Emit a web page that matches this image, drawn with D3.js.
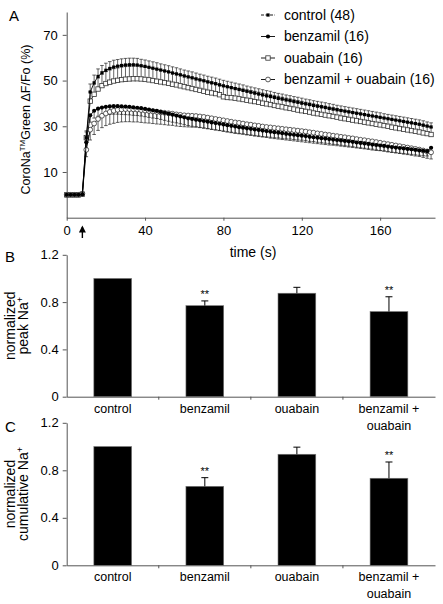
<!DOCTYPE html>
<html><head><meta charset="utf-8">
<script src="https://cdn.jsdelivr.net/npm/d3@7"></script>
<style>
body{margin:0;background:#fff}
svg{display:block}
text{font-family:"Liberation Sans",Arial,sans-serif;fill:#000}
</style>
</head><body>
<svg id="c" width="443" height="604"></svg>
<script>
// ---------------- DATA ----------------
const times = [0,2,4,6,8,10,12,14,16,18,20,22,24,26,28,30,32,34,36,38,40,42,44,46,48,50,52,54,56,58,60,62,64,66,68,70,72,74,76,78,80,82,84,86,88,90,92,94,96,98,100,102,104,106,108,110,112,114,116,118,120,122,124,126,128,130,132,134,136,138,140,142,144,146,148,150,152,154,156,158,160,162,164,166,168,170,172,174,176,178,180,182,184,186];

const control = [0,0,0,0,0.3,
 25,45,49,51.8,53.4,54.5,55.3,55.9,56.3,56.6,56.8,56.9,56.9,56.8,56.5,
 56.2,55.8,55.4,55.0,54.6,54.2,53.8,53.3,52.9,52.5,
 52.0,51.6,51.2,50.7,50.3,49.9,49.4,49.0,48.6,48.1,
 47.7,47.3,46.9,46.5,46.1,45.7,45.3,44.9,44.5,44.1,
 43.7,43.3,43.0,42.6,42.2,41.9,41.5,41.2,40.8,40.5,
 40.1,39.8,39.5,39.1,38.8,38.5,38.2,37.8,37.5,37.2,
 36.9,36.6,36.3,36.0,35.7,35.4,35.1,34.8,34.5,34.2,
 33.9,33.6,33.3,33.0,32.7,32.4,32.1,31.8,31.5,31.2,
 30.9,30.5,30.1,29.7];
const controlErr = [0,0,0,0,0,
 3.0,3.5,3.4,3.3,3.2,3.1,3.0,3.0,2.9,2.9,2.9,2.9,2.9,2.9,2.8,
 2.8,2.8,2.8,2.8,2.7,2.7,2.7,2.7,2.7,2.6,
 2.6,2.6,2.6,2.6,2.5,2.5,2.5,2.5,2.5,2.5,
 2.4,2.4,2.4,2.4,2.4,2.4,2.3,2.3,2.3,2.3,
 2.3,2.3,2.3,2.2,2.2,2.2,2.2,2.2,2.2,2.2,
 2.2,2.1,2.1,2.1,2.1,2.1,2.1,2.1,2.1,2.0,
 2.0,2.0,2.0,2.0,2.0,2.0,2.0,2.0,2.0,2.0,
 2.0,1.9,1.9,1.9,1.9,1.9,1.9,1.9,1.9,1.9,
 1.9,1.9,1.8,1.8];

const benzamil = [0,0,0,0,0.3,
 23,34.8,36.8,37.7,38.2,38.5,38.7,38.8,38.8,38.7,38.6,38.5,38.3,38.1,37.9,
 37.6,37.3,37.0,36.7,36.3,35.9,35.5,35.1,34.7,34.3,
 33.9,33.5,33.2,32.9,32.6,32.3,32.0,31.7,31.4,31.1,
 30.8,30.5,30.2,29.9,29.6,29.4,29.1,28.9,28.6,28.4,
 28.1,27.9,27.6,27.4,27.2,27.0,26.7,26.5,26.3,26.1,
 25.9,25.7,25.4,25.2,25.0,24.8,24.6,24.4,24.2,24.0,
 23.8,23.6,23.4,23.2,22.9,22.7,22.5,22.3,22.0,21.8,
 21.6,21.4,21.1,20.9,20.7,20.5,20.3,20.1,19.9,19.7,
 19.5,19.3,19.1,20.6];
const benzamilErr = [0,0,0,0,0,
 2.5,3.0,3.2,3.3,3.4,3.4,3.5,3.5,3.5,3.5,3.5,3.5,3.5,3.4,3.4,
 3.4,3.4,3.4,3.3,3.3,3.3,3.3,3.3,3.2,3.2,
 3.2,3.2,3.2,3.1,3.1,3.1,3.1,3.1,3.0,3.0,
 3.0,3.0,3.0,3.0,2.9,2.9,2.9,2.9,2.9,2.9,
 2.8,2.8,2.8,2.8,2.8,2.8,2.7,2.7,2.7,2.7,
 2.7,2.7,2.6,2.6,2.6,2.6,2.6,2.6,2.5,2.5,
 2.5,2.5,2.5,2.5,2.4,2.4,2.4,2.4,2.4,2.4,
 2.3,2.3,2.3,2.3,2.3,2.3,2.2,2.2,2.2,2.2,
 2.2,2.2,2.1,2.1];

const ouabain = [0,0,0,0,0.3,
 25,41,44,46.3,47.8,48.7,49.3,49.8,50.1,50.4,50.6,50.7,50.8,50.8,50.7,
 50.5,50.3,50.0,49.7,49.4,49.1,48.8,48.4,48.1,47.7,
 47.3,46.9,46.5,46.1,45.7,45.3,44.9,44.6,44.3,43.8,
 42.9,42.6,42.5,42.3,42.0,41.7,41.4,41.1,40.8,40.5,
 40.1,39.8,39.5,39.1,38.8,38.5,38.1,37.8,37.5,37.1,
 36.8,36.5,36.2,35.8,35.5,35.2,34.9,34.6,34.3,34.0,
 33.6,33.3,33.0,32.7,32.4,32.1,31.8,31.5,31.2,30.9,
 30.6,30.3,30.0,29.6,29.3,29.0,28.7,28.4,28.1,27.8,
 27.5,27.1,26.8,26.4];
const ouabainErr = [0,0,0,0,0,
 2.5,4.0,4.5,4.8,5.0,5.2,5.3,5.4,5.4,5.5,5.5,5.5,5.5,5.5,5.4,
 5.4,5.4,5.3,5.3,5.3,5.2,5.2,5.2,5.1,5.1,
 5.1,5.0,5.0,5.0,4.9,4.9,4.9,4.8,4.8,4.8,
 4.7,4.7,4.7,4.6,4.6,4.6,4.5,4.5,4.5,4.4,
 4.4,4.4,4.3,4.3,4.3,4.2,4.2,4.2,4.1,4.1,
 4.1,4.0,4.0,4.0,3.9,3.9,3.9,3.8,3.8,3.8,
 3.7,3.7,3.7,3.6,3.6,3.6,3.5,3.5,3.5,3.4,
 3.4,3.4,3.3,3.3,3.3,3.2,3.2,3.2,3.1,3.1,
 3.1,3.0,3.0,3.0];

const benzOuab = [0,0,0,0,0.5,
 19.7,28.5,31.2,33.2,34.6,35.6,36.3,36.8,37.2,37.4,37.5,37.5,37.4,37.3,37.1,
 36.9,36.7,36.5,36.3,36.1,35.9,35.7,35.5,35.2,35.0,
 34.8,34.7,34.6,34.5,34.3,34.1,33.8,33.5,33.2,32.9,
 32.6,32.3,32.0,31.7,31.5,31.2,30.9,30.7,30.4,30.2,
 29.9,29.7,29.5,29.3,29.1,28.9,28.7,28.5,28.3,28.1,
 27.9,27.7,27.4,27.2,26.9,26.7,26.4,26.2,25.9,25.7,
 25.4,25.2,24.9,24.7,24.4,24.1,23.9,23.6,23.4,23.1,
 22.8,22.5,22.2,21.9,21.6,21.3,21.0,20.7,20.4,20.1,
 19.8,19.4,19.0,18.6];
const benzOuabErr = [0,0,0,0,0,
 3.0,4.5,4.8,5.0,5.2,5.3,5.4,5.5,5.5,5.5,5.5,5.5,5.5,5.4,5.4,
 5.4,5.3,5.3,5.3,5.2,5.2,5.2,5.1,5.1,5.1,
 5.0,5.0,5.0,4.9,4.9,4.9,4.8,4.8,4.8,4.7,
 4.7,4.7,4.6,4.6,4.6,4.5,4.5,4.5,4.4,4.4,
 4.4,4.3,4.3,4.3,4.2,4.2,4.2,4.1,4.1,4.1,
 4.0,4.0,4.0,3.9,3.9,3.9,3.8,3.8,3.8,3.7,
 3.7,3.7,3.6,3.6,3.6,3.5,3.5,3.5,3.4,3.4,
 3.4,3.3,3.3,3.3,3.2,3.2,3.2,3.1,3.1,3.1,
 3.0,3.0,3.0,2.9];

const legendLabels = ["control (48)", "benzamil (16)", "ouabain (16)", "benzamil + ouabain (16)"];
const timeTicks = [0, 40, 80, 120, 160];
const traceTicks = [10, 30, 50, 70];
const stimulusTime = 8;

const groups = ["control", "benzamil", "ouabain", "benzamil + ouabain"];
const groupLabelLines = [["control"], ["benzamil"], ["ouabain"], ["benzamil +", "ouabain"]];
const peakNa = [1.0, 0.77, 0.875, 0.72];
const peakNaErr = [0, 0.04, 0.05, 0.125];
const cumulativeNa = [1.0, 0.665, 0.935, 0.733];
const cumulativeNaErr = [0, 0.073, 0.06, 0.137];
const significance = ["", "**", "", "**"];
const barTicks = [0, 0.4, 0.8, 1.2];

// ---------------- DRAW ----------------
const svg = d3.select("#c");
const AX = "#555";
const L = 66.7, R = 435;

function styleAxis(g, fs) {
  g.select(".domain").attr("stroke", AX).attr("stroke-width", 1);
  g.selectAll(".tick line").attr("stroke", AX);
  g.selectAll(".tick text").attr("font-size", fs).attr("fill", "#000")
   .attr("font-family", '"Liberation Sans",Arial,sans-serif');
}

// ----- Panel A -----
const xA = d3.scaleLinear().domain([0, 188]).range([L, R]);
const yA = d3.scaleLinear().domain([-10, 80]).range([217.7, 12]);

svg.append("g").attr("transform", `translate(0,${yA(-10)})`)
  .call(d3.axisBottom(xA).tickValues(timeTicks).tickSize(3).tickSizeOuter(0).tickPadding(5))
  .call(g => styleAxis(g, 13));
svg.append("g").attr("transform", `translate(${L},0)`)
  .call(d3.axisLeft(yA).tickValues(traceTicks).tickSize(4).tickSizeOuter(0).tickPadding(5))
  .call(g => styleAxis(g, 13));

const series = [
  {key: "control", v: control, e: controlErr, dir: 1, shape: "square", fill: "#000", stroke: "#000", size: 3.2},
  {key: "benzamil", v: benzamil, e: benzamilErr, dir: -1, shape: "circle", fill: "#000", stroke: "#000", size: 2.1},
  {key: "ouabain", v: ouabain, e: ouabainErr, dir: 1, shape: "square", fill: "#fff", stroke: "#333", size: 4.4},
  {key: "benzOuab", v: benzOuab, e: benzOuabErr, dir: -1, shape: "circle", fill: "#fff", stroke: "#333", size: 2.4}
];

// error bars
series.forEach(s => {
  const g = svg.append("g").attr("stroke", "#222").attr("stroke-width", 0.7);
  times.forEach((t, i) => {
    if (!s.e[i]) return;
    const x = xA(t), y0 = yA(s.v[i]), y1 = yA(s.v[i] + s.dir * s.e[i]);
    g.append("line").attr("x1", x).attr("x2", x).attr("y1", y0).attr("y2", y1);
    g.append("line").attr("x1", x - 1.8).attr("x2", x + 1.8).attr("y1", y1).attr("y2", y1);
  });
});

const line = d3.line().x((d, i) => xA(times[i])).y(d => yA(d));
function drawMarker(g, s, x, y) {
  if (s.shape === "square") {
    g.append("rect").attr("x", x - s.size / 2).attr("y", y - s.size / 2)
      .attr("width", s.size).attr("height", s.size)
      .attr("fill", s.fill).attr("stroke", s.stroke).attr("stroke-width", s.fill === "#000" ? 0 : 0.8);
  } else {
    g.append("circle").attr("cx", x).attr("cy", y).attr("r", s.size)
      .attr("fill", s.fill).attr("stroke", s.stroke).attr("stroke-width", s.fill === "#000" ? 0 : 0.8);
  }
}
[2, 0, 3, 1].forEach(k => {
  const s = series[k];
  svg.append("path").datum(s.v).attr("d", line).attr("fill", "none")
    .attr("stroke", "#000").attr("stroke-width", 0.9);
  const g = svg.append("g");
  s.v.forEach((v, i) => drawMarker(g, s, xA(times[i]), yA(v)));
});

// legend
legendLabels.forEach((lab, i) => {
  const y = 15 + i * 21.5;
  const s = series[i];
  svg.append("line").attr("x1", 261).attr("x2", 275).attr("y1", y).attr("y2", y)
    .attr("stroke", "#000").attr("stroke-width", 0.9)
    .attr("stroke-dasharray", i === 0 ? "3,1.5" : null);
  drawMarker(svg, s, 268, y);
  svg.append("text").attr("x", 284).attr("y", y).attr("dy", "0.35em")
    .attr("font-size", 14).text(lab);
});

// arrow (stimulus)
svg.append("defs").append("marker").attr("id", "ah").attr("viewBox", "0 0 10 10")
  .attr("refX", 5).attr("refY", 2).attr("markerWidth", 5).attr("markerHeight", 6)
  .attr("orient", "0")
  .append("path").attr("d", "M0,10 L5,0 L10,10 Z").attr("fill", "#000");
svg.append("line").attr("x1", xA(stimulusTime)).attr("x2", xA(stimulusTime))
  .attr("y1", 238).attr("y2", 227).attr("stroke", "#000").attr("stroke-width", 1.4)
  .attr("marker-end", "url(#ah)");

// labels A
svg.append("text").attr("x", 9).attr("y", 21).attr("font-size", 15).text("A");
svg.append("text").attr("x", 253).attr("y", 257).attr("text-anchor", "middle")
  .attr("font-size", 14).text("time (s)");
{
  const t = svg.append("text").attr("transform", "translate(30,119.5) rotate(-90)")
    .attr("text-anchor", "middle").attr("font-size", 12.5);
  t.append("tspan").text("CoroNa");
  t.append("tspan").attr("font-size", 8).attr("dy", -5).text("TM");
  t.append("tspan").attr("dy", 5).text("Green \u0394F/Fo (%)");
}

// ----- Bar panels -----
function barPanel(yTop, yBottom, values, errs, labelY, letter, letterY, ylab2) {
  const x = d3.scaleBand().domain(groups).range([L, R]).padding(0);
  const y = d3.scaleLinear().domain([0, 1.2]).range([yBottom, yTop]);
  const bw = x.bandwidth() * 0.41;

  svg.append("g").attr("transform", `translate(${L},0)`)
    .call(d3.axisLeft(y).tickValues(barTicks).tickSize(4).tickSizeOuter(0).tickPadding(4)
      .tickFormat(d => d === 0 ? "0" : d3.format(".1f")(d)))
    .call(g => styleAxis(g, 13));
  svg.append("g").attr("transform", `translate(0,${yBottom})`)
    .call(d3.axisBottom(x).tickSize(0).tickSizeOuter(0).tickFormat(""))
    .call(g => { styleAxis(g, 12); g.selectAll(".tick").remove(); });
  groups.slice(1).forEach(gname => {
    const bx = x(gname);
    svg.append("line").attr("x1", bx).attr("x2", bx).attr("y1", yBottom).attr("y2", yBottom + 3)
      .attr("stroke", AX);
  });

  groups.forEach((gname, i) => {
    const cx = x(gname) + x.bandwidth() / 2;
    svg.append("rect").attr("x", cx - bw / 2).attr("y", y(values[i]))
      .attr("width", bw).attr("height", yBottom - y(values[i]))
      .attr("fill", "#000").attr("stroke", "#777").attr("stroke-width", 0.6);
    if (errs[i] > 0) {
      const ye = y(values[i] + errs[i]);
      svg.append("line").attr("x1", cx).attr("x2", cx).attr("y1", y(values[i])).attr("y2", ye)
        .attr("stroke", "#000").attr("stroke-width", 1);
      svg.append("line").attr("x1", cx - 3.5).attr("x2", cx + 3.5).attr("y1", ye).attr("y2", ye)
        .attr("stroke", "#000").attr("stroke-width", 1);
    }
    if (significance[i]) {
      svg.append("text").attr("x", cx).attr("y", y(values[i] + errs[i]) - 2.5)
        .attr("text-anchor", "middle").attr("font-size", 11).text(significance[i]);
    }
    groupLabelLines[i].forEach((ln, j) => {
      svg.append("text").attr("x", cx).attr("y", labelY + j * 17)
        .attr("text-anchor", "middle").attr("font-size", 12.5).text(ln);
    });
  });

  svg.append("text").attr("x", 5).attr("y", letterY).attr("font-size", 15).text(letter);
  const yc = (yTop + yBottom) / 2;
  svg.append("text").attr("transform", `translate(14.5,${yc}) rotate(-90)`)
    .attr("text-anchor", "middle").attr("font-size", 14).text("normalized");
  const t2 = svg.append("text").attr("transform", `translate(27.5,${yc}) rotate(-90)`)
    .attr("text-anchor", "middle").attr("font-size", 14);
  t2.append("tspan").text(ylab2 + " Na");
  t2.append("tspan").attr("font-size", 9).attr("dy", -5).text("+");
}

barPanel(254.8, 396.7, peakNa, peakNaErr, 412.5, "B", 262, "peak ");
barPanel(422.8, 565.3, cumulativeNa, cumulativeNaErr, 581, "C", 432, "cumulative ");
</script>
</body></html>
